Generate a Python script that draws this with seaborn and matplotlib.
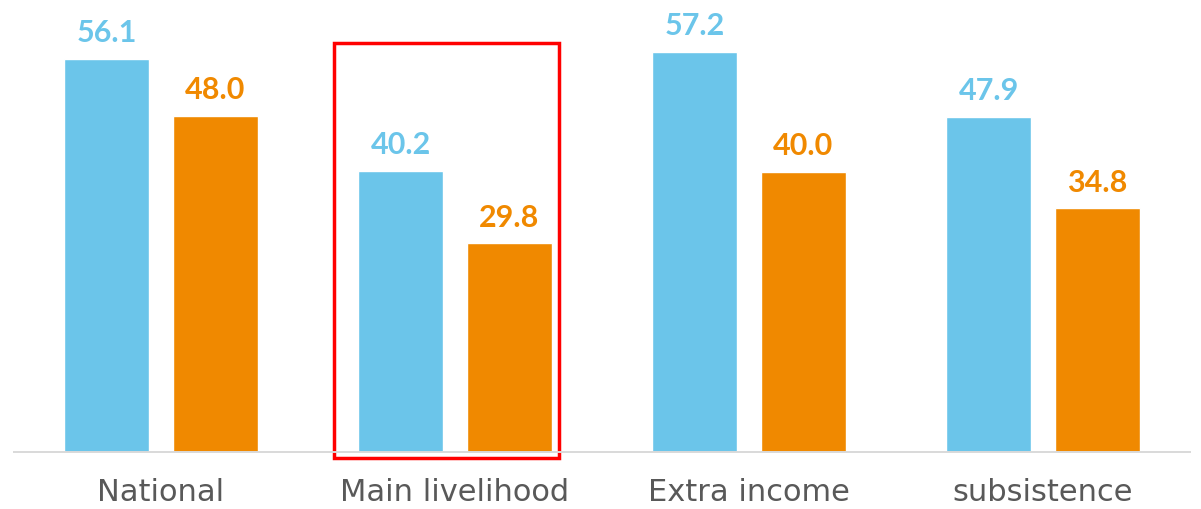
import matplotlib
matplotlib.use("Agg")
import matplotlib.pyplot as plt
from matplotlib.patches import Rectangle
import pandas as pd
import seaborn as sns

# Categories and series values
categories = ["National", "Main livelihood", "Extra income", "subsistence"]
series_names = ["Series A", "Series B"]
series_a = [56.1, 40.2, 57.2, 47.9]
series_b = [48.0, 29.8, 40.0, 34.8]

colors = {"Series A": "#6BC5EA", "Series B": "#F08900"}

df = pd.DataFrame({
    "category": categories * 2,
    "series": [series_names[0]] * len(categories) + [series_names[1]] * len(categories),
    "value": series_a + series_b,
})

sns.set_theme(style="white")
plt.rcParams["font.family"] = ["Lato", "DejaVu Sans"]

fig = plt.figure(figsize=(12.01, 5.09), dpi=100)
ax = fig.add_axes([14 / 1201, 57 / 509, 1176 / 1201, 420 / 509])

sns.barplot(data=df, x="category", y="value", hue="series", palette=colors,
            width=0.74, gap=0.22, saturation=1, legend=False, ax=ax,
            order=categories, hue_order=series_names, errorbar=None)

ax.set_xlim(-0.5, len(categories) - 0.5)
ax.set_ylim(0, 60)

for container, name in zip(ax.containers, series_names):
    ax.bar_label(container, fmt="%.1f", padding=8.5, color=colors[name],
                 fontsize=22, fontweight="bold")

for side in ["top", "left", "right"]:
    ax.spines[side].set_visible(False)
ax.spines["bottom"].set_color("#D9D9D9")
ax.spines["bottom"].set_linewidth(1.4)

ax.set_yticks([])
ax.set_xlabel("")
ax.set_ylabel("")
ax.tick_params(axis="x", length=0, pad=19, labelcolor="#595959")
for lbl in ax.get_xticklabels():
    lbl.set_family(["DejaVu Sans"])
    lbl.set_fontsize(22)

# Highlight box around the "Main livelihood" group
ax.add_patch(Rectangle((0.59, -0.86), 0.765, 59.3, fill=False,
                       edgecolor="#FF0000", linewidth=2.5, clip_on=False))

fig.savefig("out.png", dpi=100)
